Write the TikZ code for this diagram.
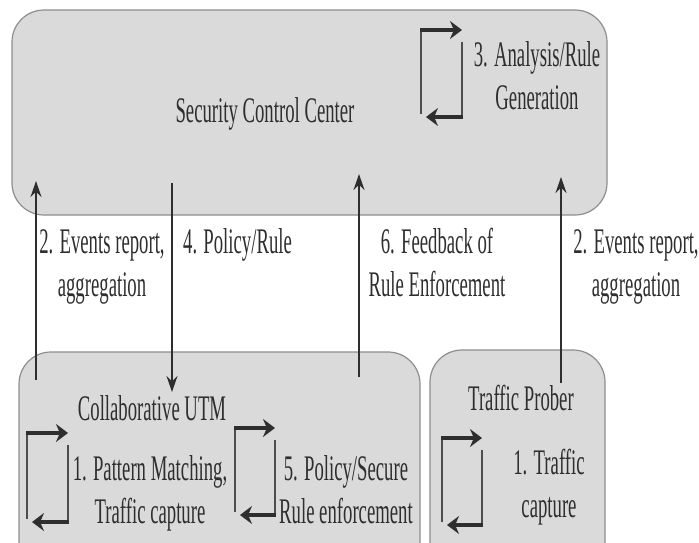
\documentclass[tikz,border=0pt]{standalone}
\usepackage{fontspec}
\setmainfont{Liberation Serif}[FakeStretch=0.52]
\usetikzlibrary{arrows.meta}
\definecolor{boxgray}{HTML}{DADADA}
\definecolor{edgegray}{HTML}{8E8E8E}
\definecolor{ink}{HTML}{2E2E2E}

\begin{document}
\begin{tikzpicture}[x=1pt,y=-1pt,
  box/.style={draw=edgegray,fill=boxgray,line width=1.2pt,rounded corners=32pt,inner sep=0pt},
  lbl/.style={font=\fontsize{36}{43}\selectfont,text=ink,inner sep=0pt,align=center,anchor=base},
  flow/.style={-{Stealth[length=16pt,width=11pt]},draw=ink,line width=1.6pt},
  loopside/.style={draw=ink!85,line width=2pt},
  loophead/.style={-{Stealth[length=12pt,width=18pt]},draw=ink,line width=4pt}]
\clip (0,0) rectangle (699,542);
\node[box,minimum width=595pt,minimum height=205pt] (scc) at (309.5,112.5) {};
\node[box,minimum width=401pt,minimum height=250pt] (utm) at (219.5,477) {};
\node[box,minimum width=175pt,minimum height=250pt] (tp) at (517.5,475) {};

% multi-line labels are placed by the baseline of their last line
\node[lbl] (scct) at (265,122) {Security Control Center};
\node[lbl] (ana) at (537,109) {3. Analysis/Rule\\Generation};
\node[lbl] (utmt) at (152,420) {Collaborative UTM};
\node[lbl] (pm) at (150,523) {1. Pattern Matching,\\Traffic capture};
\node[lbl] (pse) at (346,523) {5. Policy/Secure\\Rule enforcement};
\node[lbl] (tpt) at (521,410) {Traffic Prober};
\node[lbl] (tc) at (549,517) {1. Traffic\\capture};

\node[lbl] (ev1) at (102,296) {2. Events report,\\aggregation};
\node[lbl,anchor=base west] (pol) at (183,253) {4. Policy/Rule};
\node[lbl] (fb) at (437,296) {6. Feedback of\\Rule Enforcement};
\node[lbl] (ev2) at (636,296) {2. Events report,\\aggregation};

\coordinate (u1) at (36,380);
\coordinate (c1) at (36,181);
\coordinate (c2) at (172,183);
\coordinate (u2) at (172,392);
\coordinate (u3) at (359,377);
\coordinate (c3) at (359,174);
\coordinate (t4) at (561,383);
\coordinate (c4) at (561,177);
\draw[flow] (u1) -- (c1);
\draw[flow] (c2) -- (u2);
\draw[flow] (u3) -- (c3);
\draw[flow] (t4) -- (c4);

\foreach \lx/\ty/\rx/\by in {421/30/462/117,27/433/68/522,235/428/275/515,442/438/482/525}{
  \draw[loopside] (\lx,\by-3) -- (\lx,\ty);
  \draw[loophead] (\lx-1,\ty) -- (\rx,\ty);
  \draw[loopside] (\rx,\ty+12) -- (\rx,\by);
  \draw[loophead] (\rx+1,\by) -- (\lx+5,\by);
}
\end{tikzpicture}
\end{document}
